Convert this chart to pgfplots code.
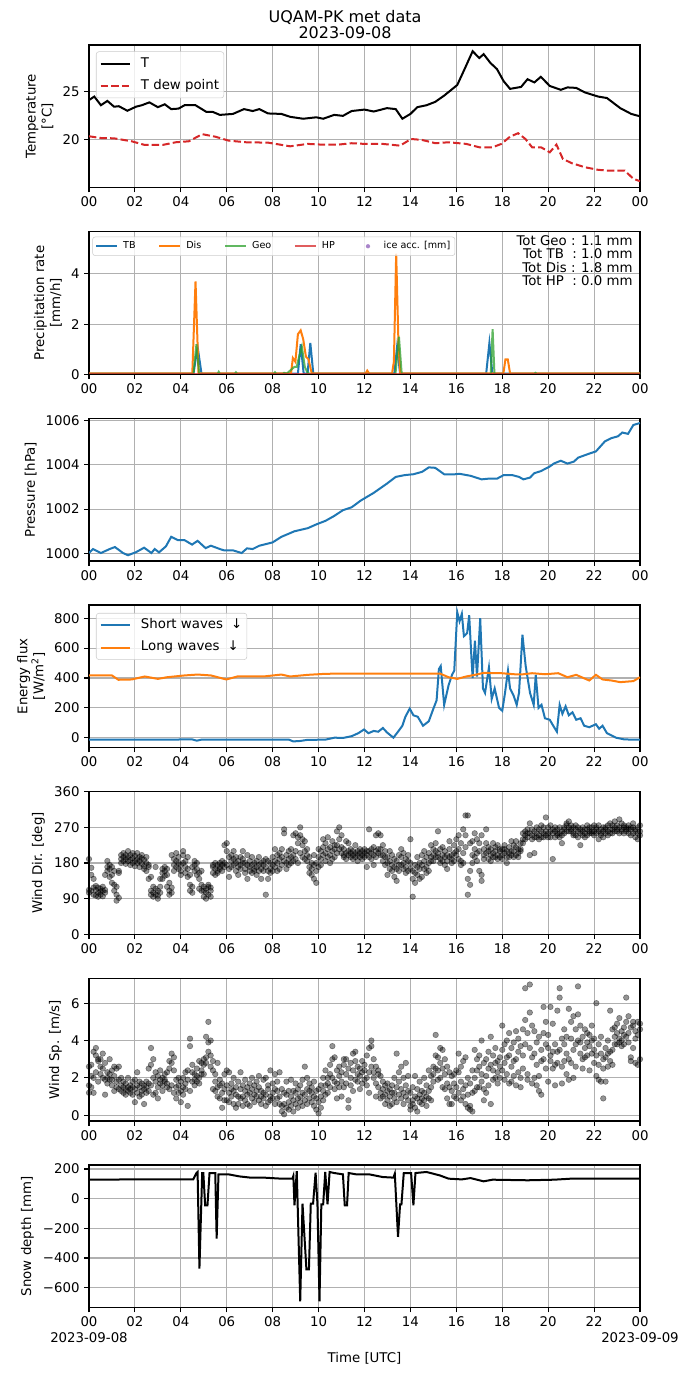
\documentclass[border=0pt]{standalone}
\usepackage{pgfplots}
\usepackage{pgfplotstable}
\pgfplotsset{compat=1.18}
\usepackage{fontspec}
\setmainfont{DejaVu Sans}
\definecolor{c0}{HTML}{1F77B4}
\definecolor{c1}{HTML}{FF7F0E}
\definecolor{c2}{HTML}{2CA02C}
\definecolor{c3}{HTML}{D62728}
\definecolor{c4}{HTML}{9467BD}
\definecolor{gridgray}{HTML}{B0B0B0}
\definecolor{leggray}{HTML}{CCCCCC}

\pgfplotstableread{
x a b c
0.0 105 112 190
0.1 110 150 168
0.2 118 100 140
0.3 98 112 122
0.4 105 95 118
0.5 100 115 108
0.6 96 120 110
0.7 112 150 105
0.8 170 185 160
0.9 165 175 145
1.0 130 150 170
1.1 110 125 160
1.2 85 120 100
1.3 160 155 92
1.4 190 200 180
1.5 185 195 205
1.6 200 178 190
1.7 195 210 185
1.8 188 175 200
1.9 192 205 180
2.0 198 185 172
2.1 190 205 180
2.2 185 195 170
2.3 178 192 200
2.4 188 172 165
2.5 180 195 160
2.6 170 140 175
2.7 110 145 100
2.8 105 120 95
2.9 115 100 170
3.0 98 110 90
3.1 120 140 105
3.2 155 165 140
3.3 160 148 170
3.4 150 165 120
3.5 110 100 130
3.6 105 118 200
3.7 175 160 190
3.8 205 185 170
3.9 180 165 195
4.0 160 175 150
4.1 200 180 210
4.2 170 155 185
4.3 165 145 195
4.4 110 125 150
4.5 120 105 170
4.6 175 160 185
4.7 150 180 165
4.8 140 155 115
4.9 160 125 110
5.0 95 110 120
5.1 105 90 115
5.2 120 100 125
5.3 110 118 95
5.4 155 170 175
5.5 165 150 180
5.6 175 160 155
5.7 170 180 165
5.8 160 175 185
5.9 180 225 170
6.0 230 210 175
6.1 195 165 145
6.2 200 185 170
6.3 210 175 190
6.4 180 160 195
6.5 185 170 150
6.6 175 195 165
6.7 190 180 210
6.8 165 180 155
6.9 175 200 140
7.0 170 185 160
7.1 155 175 195
7.2 180 160 165
7.3 150 170 185
7.4 175 195 160
7.5 180 165 140
7.6 160 185 175
7.7 170 100 190
7.8 185 160 140
7.9 165 180 155
8.0 175 195 160
8.1 185 170 215
8.2 200 180 160
8.3 165 190 205
8.4 195 175 215
8.5 265 255 185
8.6 180 200 165
8.7 190 175 210
8.8 195 215 180
8.9 250 200 185
9.0 210 255 190
9.1 230 245 180
9.2 250 270 205
9.3 240 225 195
9.4 210 190 235
9.5 215 185 200
9.6 170 155 195
9.7 150 165 180
9.8 175 140 200
9.9 180 160 130
10.0 195 215 170
10.1 210 190 175
10.2 240 200 220
10.3 205 185 230
10.4 245 215 195
10.5 220 200 180
10.6 235 210 190
10.7 215 195 225
10.8 225 205 260
10.9 270 240 215
11.0 250 220 205
11.1 200 215 195
11.2 205 190 235
11.3 230 200 210
11.4 195 205 215
11.5 200 210 190
11.6 205 195 225
11.7 210 200 185
11.8 195 205 215
11.9 200 190 210
12.0 205 195 215
12.1 200 170 210
12.2 265 210 195
12.3 205 215 190
12.4 175 200 220
12.5 210 250 195
12.6 255 205 215
12.7 215 200 250
12.8 200 185 225
12.9 175 195 210
13.0 150 195 180
13.1 210 165 185
13.2 160 175 200
13.3 145 170 190
13.4 165 185 135
13.5 200 160 175
13.6 175 195 215
13.7 180 165 205
13.8 155 190 170
13.9 185 200 160
14.0 240 180 165
14.1 95 140 160
14.2 130 155 175
14.3 170 195 150
14.4 180 165 140
14.5 145 200 175
14.6 210 165 185
14.7 155 195 170
14.8 205 180 160
14.9 185 225 195
15.0 200 185 215
15.1 210 195 230
15.2 195 260 205
15.3 190 215 180
15.4 220 200 185
15.5 210 175 195
15.6 165 185 200
15.7 195 215 235
15.8 200 180 190
15.9 225 205 185
16.0 240 200 210
16.1 215 190 250
16.2 185 230 175
16.3 265 205 180
16.4 300 250 220
16.5 300 100 140
16.6 230 160 125
16.7 200 180 235
16.8 215 195 255
16.9 240 205 185
17.0 160 230 210
17.1 135 150 250
17.2 200 215 190
17.3 265 230 205
17.4 190 210 220
17.5 215 200 185
17.6 205 230 195
17.7 195 220 210
17.8 225 200 190
17.9 210 195 215
18.0 200 215 190
18.1 215 205 225
18.2 195 210 180
18.3 205 220 195
18.4 235 210 200
18.5 210 195 225
18.6 220 200 235
18.7 195 215 205
18.8 215 230 210
18.9 240 255 230
19.0 250 260 240
19.1 265 245 255
19.2 280 255 200
19.3 250 265 240
19.4 205 260 245
19.5 255 245 270
19.6 265 250 240
19.7 245 260 275
19.8 270 255 245
19.9 295 260 250
20.0 255 270 245
20.1 260 245 275
20.2 190 255 265
20.3 245 260 270
20.4 265 250 255
20.5 255 270 245
20.6 230 260 250
20.7 265 255 270
20.8 280 260 275
20.9 270 285 260
21.0 260 275 265
21.1 255 270 250
21.2 265 250 275
21.3 245 260 270
21.4 225 255 265
21.5 260 270 250
21.6 255 265 245
21.7 265 250 275
21.8 270 260 255
21.9 255 270 260
22.0 275 260 250
22.1 265 255 270
22.2 240 260 275
22.3 255 265 250
22.4 260 245 270
22.5 270 255 265
22.6 260 275 250
22.7 280 265 255
22.8 265 255 275
22.9 270 285 260
23.0 260 275 265
23.1 290 270 255
23.2 265 280 260
23.3 270 255 275
23.4 260 270 265
23.5 275 265 255
23.6 265 250 270
23.7 255 270 280
23.8 265 245 260
23.9 270 240 255
24.0 260 275 250
}\wdir

\pgfplotstableread{
x a b c
0.0 2.6 1.6 1.2
0.1 2.1 2.7 1.5
0.2 1.2 3.4 2.0
0.3 3.6 3.2 2.3
0.4 2.9 3.0 1.8
0.5 2.6 2.2 3.0
0.6 2.5 2.0 3.3
0.7 1.9 2.8 1.1
0.8 2.0 1.7 2.3
0.9 2.2 1.9 3.0
1.0 1.9 2.4 1.6
1.1 2.1 1.3 2.6
1.2 1.5 1.8 2.5
1.3 2.6 1.4 1.9
1.4 1.3 1.6 2.0
1.5 1.5 1.2 1.8
1.6 1.4 1.7 1.1
1.7 1.3 1.5 2.0
1.8 1.6 1.2 1.4
1.9 1.1 1.8 1.5
2.0 1.4 0.7 1.9
2.1 1.6 2.3 1.2
2.2 1.0 1.5 1.8
2.3 1.3 1.7 1.1
2.4 1.6 0.6 1.4
2.5 1.2 1.8 1.5
2.6 1.7 2.5 1.3
2.7 3.6 2.7 1.6
2.8 2.0 3.0 1.1
2.9 1.8 1.2 2.3
3.0 1.5 2.1 0.9
3.1 1.9 1.7 2.4
3.2 2.0 1.6 1.3
3.3 1.8 2.2 1.9
3.4 2.3 1.5 1.7
3.5 2.5 1.4 2.9
3.6 3.3 2.8 1.6
3.7 3.1 2.4 1.2
3.8 1.5 1.9 0.9
3.9 1.6 1.2 2.0
4.0 1.3 0.7 1.8
4.1 2.0 1.5 1.1
4.2 1.7 2.3 1.4
4.3 0.5 1.9 2.4
4.4 3.7 4.1 1.3
4.5 2.3 1.8 2.7
4.6 1.9 2.2 1.6
4.7 2.5 1.8 2.1
4.8 2.9 2.0 1.7
4.9 2.2 2.8 2.4
5.0 2.7 3.0 2.2
5.1 4.2 2.8 3.1
5.2 5.0 3.4 3.9
5.3 3.2 2.6 4.0
5.4 2.4 1.4 2.9
5.5 1.3 2.2 1.8
5.6 1.0 1.5 2.8
5.7 1.6 0.9 1.9
5.8 0.4 1.2 1.7
5.9 1.4 0.8 2.2
6.0 0.8 1.6 2.4
6.1 1.2 0.7 2.3
6.2 1.7 1.0 1.4
6.3 0.6 1.3 2.0
6.4 1.1 0.4 1.5
6.5 1.8 1.0 0.6
6.6 1.4 2.3 0.9
6.7 1.0 1.6 0.5
6.8 1.3 0.8 1.9
6.9 1.5 1.1 0.6
7.0 1.2 0.5 1.7
7.1 0.9 1.4 2.0
7.2 1.6 1.1 0.7
7.3 1.0 1.8 1.3
7.4 0.8 1.5 2.1
7.5 1.3 0.6 1.0
7.6 1.9 1.2 0.9
7.7 1.1 2.0 0.5
7.8 0.7 1.4 1.6
7.9 1.0 0.8 2.4
8.0 1.7 1.2 0.9
8.1 1.4 2.2 0.6
8.2 0.9 1.8 1.3
8.3 0.6 2.3 1.0
8.4 0.5 1.4 0.2
8.5 0.05 0.6 1.2
8.6 0.4 1.1 1.8
8.7 1.3 0.7 0.3
8.8 1.0 1.9 0.5
8.9 0.8 1.3 0.2
9.0 1.2 0.6 1.7
9.1 0.9 1.4 0.4
9.2 1.6 1.0 0.7
9.3 0.5 1.2 1.9
9.4 1.1 2.6 0.8
9.5 1.4 2.0 0.6
9.6 0.9 1.3 1.7
9.7 1.2 0.7 1.5
9.8 1.8 1.0 0.5
9.9 1.3 0.9 0.3
10.0 0.7 1.4 0.1
10.1 1.0 0.4 1.6
10.2 1.3 0.8 2.0
10.3 1.6 1.1 2.4
10.4 1.2 2.0 1.7
10.5 2.2 1.5 2.7
10.6 3.0 3.7 2.0
10.7 3.1 1.8 1.4
10.8 1.7 2.4 0.9
10.9 2.1 1.5 2.6
11.0 2.3 1.8 1.0
11.1 1.5 2.7 3.0
11.2 3.0 2.2 1.7
11.3 0.8 2.5 0.4
11.4 2.8 2.0 1.6
11.5 3.3 2.4 1.3
11.6 3.4 2.9 1.9
11.7 2.6 1.8 2.2
11.8 2.1 2.5 1.4
11.9 2.9 2.3 1.7
12.0 2.4 1.9 2.7
12.1 1.6 3.2 2.0
12.2 3.6 2.3 1.2
12.3 4.0 3.7 2.6
12.4 3.0 2.0 2.3
12.5 2.6 1.7 1.0
12.6 2.2 1.5 2.4
12.7 2.1 1.2 0.9
12.8 1.4 1.8 1.0
12.9 1.1 1.6 0.6
13.0 1.3 0.8 1.7
13.1 1.0 0.5 1.4
13.2 1.6 1.2 0.6
13.3 1.2 2.0 0.9
13.4 3.3 1.5 0.7
13.5 1.8 1.1 2.3
13.6 1.4 0.9 2.6
13.7 2.0 1.2 0.6
13.8 2.8 1.0 1.6
13.9 1.3 2.1 0.8
14.0 0.5 1.2 0.3
14.1 0.8 1.5 0.6
14.2 2.1 1.0 0.4
14.3 1.4 0.9 0.2
14.4 0.7 1.1 1.8
14.5 0.9 0.6 1.3
14.6 1.2 0.8 2.0
14.7 1.6 1.0 0.5
14.8 2.4 1.3 0.9
14.9 0.8 1.5 2.1
15.0 2.6 1.8 2.2
15.1 4.3 3.2 2.5
15.2 3.1 2.4 1.9
15.3 2.8 3.6 2.0
15.4 3.5 2.5 1.5
15.5 2.2 3.0 1.4
15.6 1.7 0.9 2.6
15.7 0.6 1.5 2.3
15.8 1.3 2.1 0.6
15.9 2.2 1.0 1.7
16.0 1.5 2.4 0.9
16.1 2.3 1.2 3.3
16.2 1.8 0.8 2.6
16.3 1.4 2.9 1.0
16.4 3.1 1.6 0.6
16.5 2.0 1.1 0.4
16.6 0.5 1.7 0.3
16.7 0.2 1.2 2.4
16.8 3.5 2.0 1.3
16.9 2.4 1.5 3.0
17.0 2.6 1.5 3.2
17.1 1.8 4.0 2.2
17.2 0.8 2.8 1.4
17.3 3.0 2.1 1.2
17.4 2.5 1.6 3.4
17.5 4.2 2.7 0.6
17.6 3.2 1.9 2.4
17.7 2.0 2.8 3.6
17.8 2.9 2.3 1.7
17.9 3.1 2.6 2.0
18.0 3.5 2.4 4.8
18.1 2.8 3.8 1.9
18.2 4.0 2.2 3.1
18.3 3.2 1.7 4.4
18.4 2.6 3.6 1.8
18.5 3.9 2.9 2.1
18.6 4.5 3.0 1.6
18.7 3.4 2.3 4.1
18.8 2.0 3.7 1.5
18.9 4.6 3.2 2.5
19.0 6.8 3.8 5.1
19.1 4.4 2.2 1.9
19.2 7.0 5.5 3.6
19.3 4.8 3.1 1.7
19.4 2.0 4.5 3.3
19.5 1.6 3.9 2.7
19.6 1.3 2.1 4.2
19.7 3.5 1.1 2.9
19.8 5.8 4.4 3.0
19.9 3.8 2.5 5.0
20.0 3.6 4.3 1.8
20.1 2.9 5.8 3.2
20.2 2.5 4.9 3.4
20.3 1.6 3.8 2.7
20.4 2.8 3.4 5.6
20.5 6.8 6.3 3.5
20.6 4.1 2.6 1.7
20.7 2.9 3.8 4.6
20.8 2.2 3.3 4.2
20.9 5.7 3.0 1.9
21.0 5.0 2.8 4.1
21.1 2.0 3.5 5.3
21.2 3.8 2.6 4.6
21.3 6.9 5.4 4.0
21.4 3.3 3.9 4.8
21.5 4.2 3.0 2.5
21.6 3.6 4.6 3.1
21.7 3.9 3.2 4.4
21.8 4.3 2.4 3.7
21.9 4.0 4.8 3.3
22.0 2.8 4.1 3.5
22.1 6.0 2.1 3.2
22.2 1.9 2.7 3.8
22.3 3.3 1.8 4.2
22.4 0.9 3.0 2.5
22.5 3.1 3.6 1.8
22.6 2.6 3.3 4.0
22.7 2.9 5.6 3.4
22.8 3.5 4.6 2.7
22.9 3.8 4.2 4.7
23.0 4.9 4.4 3.8
23.1 5.2 4.1 3.9
23.2 4.0 4.5 3.7
23.3 4.3 3.8 4.7
23.4 6.3 5.0 4.2
23.5 5.3 4.4 3.9
23.6 3.1 4.7 2.9
23.7 4.8 3.6 5.0
23.8 4.5 2.8 4.1
23.9 5.0 4.3 2.7
24.0 4.6 3.0 4.9
}\wsp

\pgfplotsset{
  panel/.style={
    scale only axis, width=413.25pt, height=107pt,
    anchor=north west,
    xmin=0, xmax=24,
    xtick={0,2,...,24},
    xticklabels={00,02,04,06,08,10,12,14,16,18,20,22,00},
    grid=major,
    major grid style={color=gridgray, line width=0.8pt},
    axis line style={line width=0.8pt},
    every tick/.style={line width=0.8pt, black},
    tick align=outside, major tick length=3.5pt,
    tick pos=left,
    /pgf/number format/assume math mode=true,
    /pgf/number format/1000 sep={},
    ticklabel style={font=\fontsize{10}{12}\selectfont},
    label style={font=\fontsize{10}{12}\selectfont},
    ylabel style={align=center},
    legend cell align=left,
  },
  mleg/.style={
    legend style={draw=leggray, rounded corners=2pt, fill=white, fill opacity=0.8,
      text opacity=1, anchor=north west, inner xsep=2.5pt, inner ysep=3pt,
      row sep=4.7pt, font=\fontsize{10}{12}\selectfont,
      nodes={inner sep=1pt, text height=7.5pt, text depth=2.5pt},
      /tikz/every odd column/.append style={column sep=6.5pt}},
    legend image code/.code={\draw[mark repeat=2,mark phase=2,##1] plot coordinates {(0pt,0pt) (11pt,0pt) (22pt,0pt)};},
  },
  sc/.style={only marks, mark=*, mark size=2.1pt, draw=black, fill=black, opacity=0.42},
}

\begin{document}
\begin{tikzpicture}
\useasboundingbox (0pt,0pt) rectangle (517.5pt,-1032.75pt);
\node[anchor=base, font=\fontsize{12}{14}\selectfont] at (258.75pt,-17pt) {UQAM-PK met data};
\node[anchor=base, font=\fontsize{12}{14}\selectfont] at (258.75pt,-29.25pt) {2023-09-08};

% ---------- Temperature
\begin{axis}[panel, mleg, at={(66.75pt,-33.75pt)},
  ymin=15.05, ymax=29.85, ytick={20,25},
  ylabel={Temperature\\{[°C]}},
  legend style={at={(0.0127,0.955)}}]
\addplot[black, line width=1.5pt] coordinates {(0,24.14)(0.23,24.5)(0.52,23.6)(0.8,24.05)(1.09,23.45)(1.3,23.5)(1.67,23.03)(2.05,23.45)(2.3,23.6)(2.63,23.9)(3.0,23.4)(3.3,23.7)(3.58,23.2)(3.9,23.25)(4.16,23.6)(4.64,23.6)(5.12,22.9)(5.4,22.9)(5.7,22.6)(6.27,22.7)(6.75,23.2)(7.13,23.0)(7.42,23.2)(7.8,22.75)(8.38,22.7)(8.76,22.4)(9.33,22.2)(9.9,22.35)(10.2,22.2)(10.68,22.6)(11.06,22.5)(11.44,23.0)(12.0,23.15)(12.4,22.95)(12.98,23.3)(13.36,23.2)(13.65,22.2)(14.0,22.7)(14.3,23.4)(14.7,23.6)(15.08,23.95)(15.47,24.6)(16.04,25.7)(16.33,27.2)(16.71,29.2)(17.0,28.5)(17.19,28.9)(17.48,28.0)(17.77,27.35)(18.06,26.1)(18.34,25.3)(18.82,25.5)(19.1,26.3)(19.4,25.97)(19.68,26.55)(20.07,25.6)(20.55,25.2)(20.84,25.45)(21.22,25.4)(21.6,24.93)(22.18,24.5)(22.56,24.35)(23.14,23.3)(23.62,22.7)(24,22.45)};
\addlegendentry{T}
\addplot[c3, line width=1.5pt, dash pattern=on 5.55pt off 2.4pt] coordinates {(0,20.38)(0.52,20.2)(1.09,20.17)(1.86,19.86)(2.43,19.48)(3.2,19.48)(3.78,19.76)(4.35,19.86)(4.93,20.6)(5.5,20.34)(6.08,19.93)(6.84,19.76)(7.8,19.72)(8.76,19.34)(9.53,19.59)(10.1,19.52)(10.87,19.52)(11.44,19.66)(12.02,19.59)(12.79,19.59)(13.55,19.41)(14.03,20.1)(14.51,20.0)(15.09,19.66)(15.66,19.76)(16.43,19.59)(17.0,19.24)(17.58,19.24)(17.96,19.59)(18.34,20.34)(18.69,20.7)(19.01,20.1)(19.3,19.24)(19.69,19.24)(20.07,18.72)(20.36,19.52)(20.64,18.03)(21.03,17.59)(21.6,17.17)(22.18,16.9)(22.56,16.83)(23.33,16.83)(23.71,15.97)(24,15.72)};
\addlegendentry{T dew point}
\end{axis}

% ---------- Precipitation
\begin{axis}[panel, at={(66.75pt,-173.75pt)},
  ymin=0, ymax=5.68, ytick={0,2,4},
  ylabel={Precipitation rate\\{[mm/h]}},
  legend columns=5,
  legend style={at={(0.006,0.965)}, anchor=north west, draw=leggray, rounded corners=2pt,
    fill=white, fill opacity=0.8, text opacity=1, inner xsep=2pt, inner ysep=2pt,
    font=\fontsize{7.2}{8}\selectfont,
    nodes={inner sep=1.5pt, text height=5.4pt, text depth=1.6pt},
    /tikz/every odd column/.append style={column sep=2.5pt},
    /tikz/every even column/.append style={column sep=15.5pt}},
  legend image code/.code={\draw[mark repeat=2,mark phase=2,#1] plot coordinates {(0pt,0pt) (7.75pt,0pt) (15.5pt,0pt)};}]
\addplot[c0, line width=1.5pt] coordinates {(0,0.03)(4.55,0.03)(4.73,1.1)(4.9,0.03)(9.1,0.03)(9.22,1.2)(9.35,0.03)(9.52,0.03)(9.64,1.25)(9.77,0.03)(13.3,0.03)(13.42,1.1)(13.55,0.03)(17.3,0.03)(17.44,1.25)(17.57,0.03)(24,0.03)};
\addlegendentry{TB}
\addplot[c1, line width=1.5pt] coordinates {(0,0.04)(4.5,0.04)(4.64,3.7)(4.77,0.04)(8.8,0.04)(8.88,0.65)(8.99,0.5)(9.1,1.6)(9.22,1.75)(9.33,1.4)(9.45,0.7)(9.56,0.6)(9.7,0.04)(12.05,0.04)(12.12,0.15)(12.2,0.04)(13.2,0.04)(13.28,0.5)(13.38,4.8)(13.48,1.2)(13.56,0.04)(18.05,0.04)(18.14,0.6)(18.24,0.6)(18.34,0.04)(24,0.04)};
\addlegendentry{Dis}
\addplot[c2, line width=1.5pt, opacity=0.75] coordinates {(0,0.02)(4.55,0.02)(4.68,1.2)(4.8,0.02)(5.6,0.02)(5.65,0.1)(5.7,0.02)(6.35,0.02)(6.4,0.08)(6.45,0.02)(8.05,0.02)(8.1,0.08)(8.15,0.02)(8.45,0.02)(8.5,0.06)(8.6,0.02)(8.95,0.3)(9.05,0.3)(9.15,0.7)(9.27,1.1)(9.4,0.3)(9.5,0.1)(9.6,0.02)(13.35,0.02)(13.5,1.5)(13.62,0.02)(17.5,0.02)(17.58,1.8)(17.66,0.02)(19.4,0.02)(19.45,0.06)(19.5,0.02)(24,0.02)};
\addlegendentry{Geo}
\addplot[c3, line width=1.5pt, opacity=0.75] coordinates {(0,0)(24,0)};
\addlegendentry{HP}
\addlegendimage{legend image code/.code={\path[draw=none,fill=none] (0pt,-1pt) rectangle (15.5pt,1pt); \fill[draw=none, c4, opacity=0.8] (7.75pt,0pt) circle (1.6pt);}}
\addlegendentry{ice acc. [mm]}
\addplot[black, line width=1.2pt] coordinates {(0,0)(24,0)};
\node[anchor=north east, align=right, inner sep=0pt, font=\fontsize{10}{10}\selectfont] at (rel axis cs:0.987,0.975)
  {Tot Geo : 1.1 mm\\Tot TB\ \ : 1.0 mm\\Tot Dis : 1.8 mm\\Tot HP\ \ : 0.0 mm};
\end{axis}

% ---------- Pressure
\begin{axis}[panel, at={(66.75pt,-313.75pt)},
  ymin=999.66, ymax=1006.09, ytick={1000,1002,1004,1006},
  ylabel={Pressure [hPa]}]
\addplot[c0, line width=1.5pt] coordinates {(0,1000.02)(0.17,1000.2)(0.52,1000.02)(0.9,1000.2)(1.13,1000.29)(1.48,1000.02)(1.7,999.92)(2.05,1000.06)(2.4,1000.26)(2.72,1000.02)(2.86,1000.2)(3.05,1000.05)(3.35,1000.32)(3.58,1000.75)(3.87,1000.6)(4.16,1000.6)(4.49,1000.4)(4.73,1000.57)(5.08,1000.24)(5.31,1000.35)(5.7,1000.2)(5.88,1000.14)(6.27,1000.14)(6.65,1000.02)(6.88,1000.23)(7.13,1000.2)(7.42,1000.35)(8.0,1000.5)(8.38,1000.75)(8.95,1001.0)(9.53,1001.14)(9.9,1001.31)(10.3,1001.47)(10.68,1001.69)(11.06,1001.95)(11.44,1002.08)(11.83,1002.38)(12.4,1002.73)(12.98,1003.15)(13.36,1003.45)(13.74,1003.53)(14.13,1003.57)(14.51,1003.68)(14.8,1003.88)(15.08,1003.86)(15.47,1003.57)(15.85,1003.56)(16.14,1003.59)(16.62,1003.5)(17.1,1003.34)(17.39,1003.37)(17.77,1003.37)(18.06,1003.53)(18.44,1003.53)(18.73,1003.45)(18.92,1003.34)(19.21,1003.42)(19.4,1003.62)(19.68,1003.71)(20.07,1003.92)(20.26,1004.06)(20.55,1004.18)(20.84,1004.05)(21.12,1004.14)(21.31,1004.32)(21.79,1004.5)(22.08,1004.6)(22.47,1005.05)(22.76,1005.2)(23.04,1005.28)(23.23,1005.45)(23.48,1005.39)(23.71,1005.79)(24,1005.88)};
\end{axis}

% ---------- Energy flux
\begin{axis}[panel, mleg, at={(66.75pt,-453.75pt)},
  ymin=-67, ymax=889, ytick={0,200,400,600,800},
  ylabel={Energy flux\\{[W/m\textsuperscript{2}]}},
  legend style={at={(0.0127,0.944)}}]
\addplot[c0, line width=1.5pt] coordinates {(0,-13)(2,-13)(4.5,-12)(4.7,-20)(4.9,-13)(8.7,-13)(8.9,-25)(9.2,-22)(9.5,-15)(10.3,-13)(10.7,0)(11.06,-2)(11.44,10)(11.73,30)(11.98,55)(12.17,30)(12.4,45)(12.6,40)(12.8,65)(12.98,35)(13.26,0)(13.46,40)(13.65,80)(13.78,140)(13.97,195)(14.13,150)(14.32,140)(14.55,80)(14.8,110)(14.99,190)(15.14,250)(15.24,460)(15.32,480)(15.47,220)(15.66,350)(15.81,420)(15.91,450)(16.04,840)(16.14,780)(16.24,830)(16.33,680)(16.47,700)(16.56,820)(16.66,530)(16.71,400)(16.81,650)(16.9,410)(17.04,800)(17.16,330)(17.25,300)(17.42,470)(17.54,260)(17.67,330)(17.86,200)(18.0,180)(18.12,300)(18.25,450)(18.34,330)(18.5,280)(18.63,220)(18.73,300)(18.88,690)(19.02,480)(19.21,300)(19.37,220)(19.46,420)(19.58,200)(19.71,220)(19.86,130)(20.07,120)(20.22,80)(20.38,40)(20.5,220)(20.62,160)(20.76,210)(20.9,150)(21.06,170)(21.22,120)(21.41,130)(21.57,80)(21.79,70)(22.08,90)(22.22,60)(22.37,80)(22.56,30)(22.95,0)(23.33,-12)(24,-13)};
\addlegendentry{Short waves\hspace{0.6em}↓}
\addplot[c1, line width=1.5pt] coordinates {(0,417)(1.0,417)(1.28,388)(1.86,390)(2.43,410)(3.0,394)(3.4,405)(4.16,417)(4.73,423)(5.31,417)(5.98,390)(6.46,410)(7.6,410)(8.38,423)(8.76,410)(9.53,421)(10.3,428)(11.44,430)(13.36,430)(15.28,430)(15.66,405)(16.04,394)(16.43,410)(16.81,421)(17.19,434)(17.96,432)(18.53,425)(18.92,425)(19.3,432)(19.86,425)(20.44,432)(20.84,405)(21.22,421)(21.79,383)(22.08,421)(22.37,390)(22.76,383)(23.14,372)(23.71,379)(24,405)};
\addlegendentry{Long waves\hspace{0.6em}↓}
\end{axis}

% ---------- Wind direction
\begin{axis}[panel, at={(66.75pt,-593.75pt)},
  ymin=0, ymax=360, ytick={0,90,180,270,360},
  ylabel={Wind Dir. [deg]}]
\addplot[sc] table[x=x,y=a]{\wdir};
\addplot[sc] table[x=x,y=b]{\wdir};
\addplot[sc] table[x=x,y=c]{\wdir};
\end{axis}

% ---------- Wind speed
\begin{axis}[panel, at={(66.75pt,-733.75pt)},
  ymin=-0.31, ymax=7.33, ytick={0,2,4,6},
  ylabel={Wind Sp. [m/s]}]
\addplot[sc] table[x=x,y=a]{\wsp};
\addplot[sc] table[x=x,y=b]{\wsp};
\addplot[sc] table[x=x,y=c]{\wsp};
\end{axis}

% ---------- Snow depth
\begin{axis}[panel, at={(66.75pt,-873.75pt)},
  ymin=-735, ymax=227, ytick={-600,-400,-200,0,200},
  yticklabels={−600,−400,−200,0,200},
  xticklabels={{00\\2023-09-08},02,04,06,08,10,12,14,16,18,20,22,{00\\2023-09-09}},
  xticklabel style={align=center},
  xlabel={Time [UTC]},
  ylabel={Snow depth [mm]}]
\addplot[black, line width=1.5pt] coordinates {(0,128)(2,130)(4.54,130)(4.68,173)(4.73,180)(4.81,-472)(4.93,173)(4.98,173)(5.06,-45)(5.16,-45)(5.25,173)(5.4,173)(5.5,173)(5.56,-270)(5.64,164)(6.08,164)(6.56,150)(7.03,142)(7.61,142)(8.38,135)(8.86,135)(8.9,153)(8.95,-45)(9.05,186)(9.2,-692)(9.3,-34)(9.47,-476)(9.58,-476)(9.66,-34)(9.76,-34)(9.87,175)(9.95,-34)(10.04,-692)(10.12,-38)(10.2,-38)(10.29,180)(10.39,-38)(10.48,180)(10.68,173)(11.06,164)(11.14,-45)(11.24,-45)(11.31,173)(11.64,164)(12.21,164)(12.79,146)(13.26,142)(13.32,168)(13.46,-258)(13.55,-38)(13.61,-38)(13.71,173)(14.03,173)(14.13,-45)(14.22,173)(14.7,180)(15.28,157)(15.66,135)(16.24,130)(16.62,139)(17.0,124)(17.19,117)(17.58,128)(19.11,124)(20.26,128)(21.0,135)(24,135)};
\end{axis}
\end{tikzpicture}
\end{document}
